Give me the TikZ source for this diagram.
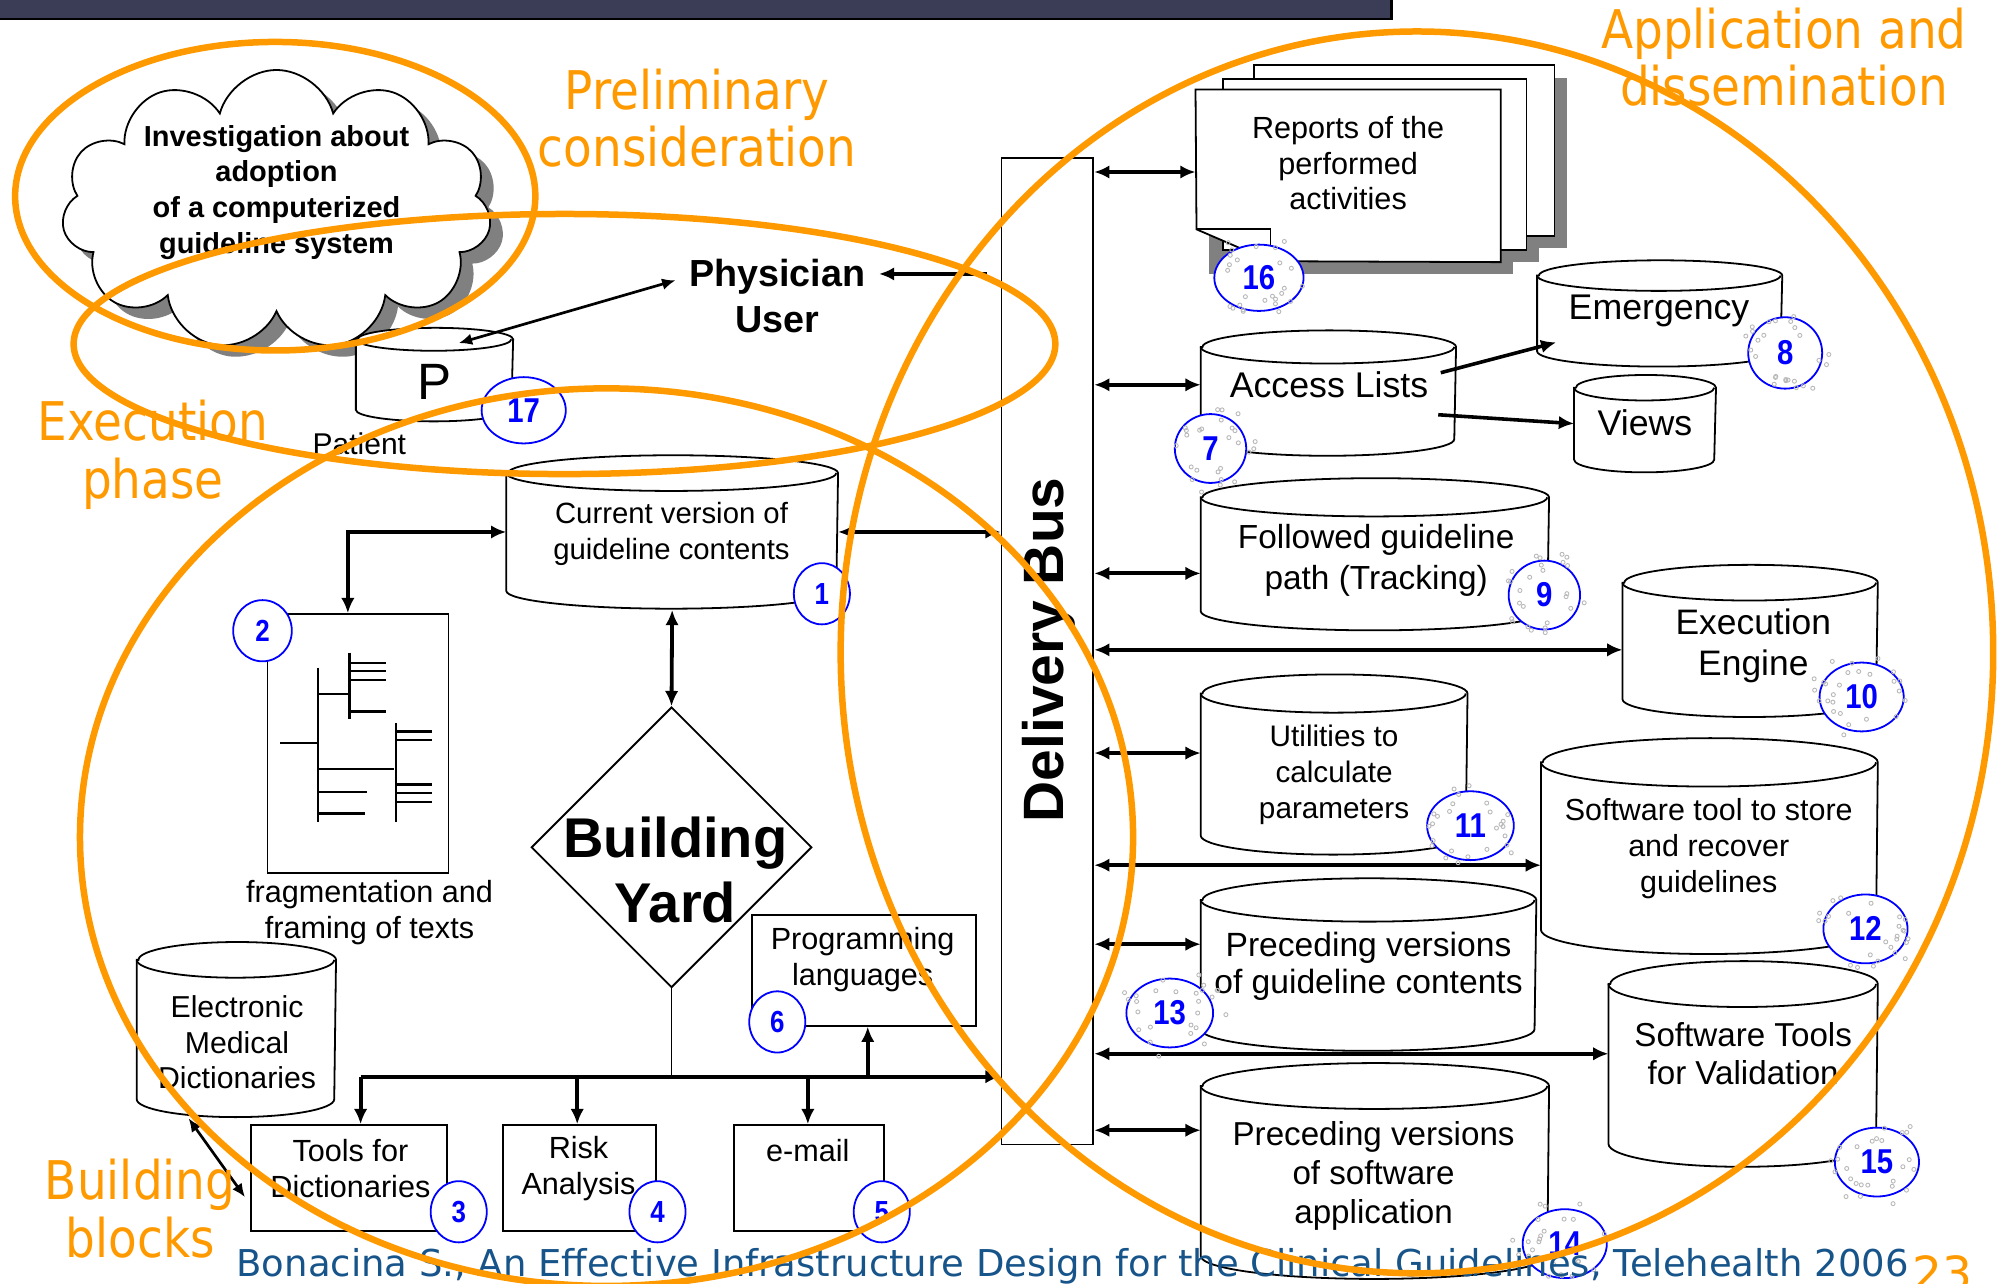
\documentclass[tikz,border=0pt]{standalone}
\usepackage{fontspec}
\setmainfont{Liberation Sans}
\newfontfamily\dvsans{DejaVu Sans}
\usepackage{graphicx}
\usetikzlibrary{shapes.geometric,shapes.symbols,arrows.meta,calc}

\definecolor{orangeline}{RGB}{255,153,0}
\definecolor{barnavy}{RGB}{59,61,87}
\definecolor{footblue}{RGB}{22,84,138}
\definecolor{badgeblue}{RGB}{0,0,255}
\definecolor{shadowgray}{RGB}{128,128,128}
\definecolor{speckgray}{RGB}{185,185,185}

\newcommand\fsz[2]{\fontsize{#1}{#2}\selectfont}

% cylinder: name, left x, right x, top-ellipse centre y, bottom-ellipse centre y, half height of ellipse
\newcommand\cylinder[6]{%
  \pgfmathsetmacro\cylcx{(#2+#3)/2}%
  \pgfmathsetmacro\cylcy{(#4+#5)/2}%
  \pgfmathsetmacro\cylrx{(#3-#2)/2}%
  \node[cylbox, minimum width={(#3-#2)*0.01cm}, minimum height={(#5-#4)*0.01cm}] (#1) at (\cylcx,\cylcy) {};
  \filldraw[cylline] (#1.north west) -- (#1.south west)
     arc[start angle=180, end angle=360, x radius=\cylrx*0.01cm, y radius=#6*0.01cm]
     -- (#1.north east)
     arc[start angle=0, end angle=180, x radius=\cylrx*0.01cm, y radius=#6*0.01cm] -- cycle;
  \draw[cylline, fill=none] (#1.north west)
     arc[start angle=180, end angle=360, x radius=\cylrx*0.01cm, y radius=#6*0.01cm];
}

% numbered marker: name, centre, number, x radius, y radius, font size
\newcommand\marker[6]{%
  \node[marknode, minimum width={#4*0.02cm}, minimum height={#5*0.02cm},
        font=\bfseries\fsz{#6}{#6}] (#1) at (#2) {\scalebox{0.85}[1]{#3}};}

% grey speckles round a marker: name, x radius, y radius
\newcommand\speckle[3]{%
  \foreach \k in {1,...,26}{%
    \pgfmathsetmacro\spa{rnd*360}%
    \pgfmathsetmacro\spr{0.6+rnd*0.7}%
    \draw[speckgray, line width=0.2pt] ($(#1)+({\spr*#2*cos(\spa)},{\spr*#3*sin(\spa)})$) circle[radius=0.45pt];
  }}

\begin{document}
\begin{tikzpicture}[x=0.01cm, y=-0.01cm,
  cylbox/.style={rectangle, inner sep=0, draw=none},
  cylline/.style={draw=black, fill=white, line width=0.4pt},
  boxnode/.style={rectangle, draw=black, fill=white, line width=0.4pt, inner sep=0},
  txt/.style={align=center, inner sep=0, text=black},
  marknode/.style={ellipse, draw=badgeblue, fill=white, line width=0.4pt, inner sep=0, text=badgeblue},
  tipa/.tip={Latex[length=3.4pt,width=3pt]},
  dbl/.style={tipa-tipa, line width=0.85pt},
  sgl/.style={-tipa, line width=0.85pt},
  thindbl/.style={{Latex[length=3pt,width=2.6pt]}-{Latex[length=3pt,width=2.6pt]}, line width=0.6pt},
  ring/.style={draw=orangeline, line width=1.45pt},
  olabel/.style={text=orangeline, inner sep=0, anchor=base, font=\dvsans\fsz{11.9}{13}},
  treeline/.style={line width=0.55pt}
]
\useasboundingbox (0,0) rectangle (1568,1007);
\clip (0,0) rectangle (1568,1007);

% title bar
\filldraw[fill=barnavy, draw=black, line width=0.6pt] (-5,-5) rectangle (1092,15);

% ---------- preliminary consideration ----------
\node[cloud, cloud puffs=11, cloud ignores aspect, minimum width=3.37cm, minimum height=2.2cm,
      fill=shadowgray, inner sep=0] (cloudsh) at (227,174) {};
\node[cloud, cloud puffs=11, cloud ignores aspect, minimum width=3.37cm, minimum height=2.2cm,
      draw=black, fill=white, line width=0.4pt, inner sep=0] (cloud) at (217,165) {};
\node[txt, font=\bfseries\fsz{6.46}{7.97}] (cloudt) at (217,151)
  {Investigation about\\adoption\\of a computerized\\guideline system};

% ---------- physician / patient ----------
\node[txt, font=\bfseries\fsz{8.42}{9.67}] (phy) at (610,217) {Physician};
\node[txt, font=\bfseries\fsz{8.42}{9.67}] (usr) at (610,251) {User};

\cylinder{pat}{280}{402}{267}{321}{9}
\node[txt, font=\fsz{11.4}{12}] (patp) at (341,300) {P};
\node[txt, font=\fsz{6.7}{8}] (patl) at (282,348) {Patient};

\draw[thindbl] ($(phy.west)+(-10,3)$) -- ($(pat.north)+(19,3)$);

% ---------- delivery bus ----------
\node[boxnode, minimum width=0.72cm, minimum height=7.74cm] (bus) at (822,511) {};
\node[txt, rotate=90, font=\bfseries\fsz{12.7}{14}] (bust) at (823,510) {Delivery Bus};

\draw[sgl, line width=0.7pt] ($(bus.west |- phy.east)+(-11,-2)$) -- ($(phy.east)+(10,-2)$);

% ---------- reports stack ----------
\fill[shadowgray] (994,61) rectangle (1230,195);
\fill[shadowgray] (970,72) rectangle (1208,206);
\fill[shadowgray] (949,81) rectangle (1187,215);
\filldraw[fill=white, draw=black, line width=0.4pt] (984,51) rectangle (1220,185);
\filldraw[fill=white, draw=black, line width=0.4pt] (960,62) rectangle (1198,196);
\node[rectangle, inner sep=0, minimum width=2.38cm, minimum height=1.34cm] (rep) at (1058,138) {};
\filldraw[fill=white, draw=black, line width=0.4pt]
  (rep.north west) -- (rep.north east) -- (rep.south east) -- (997,205) -- (939,180) -- cycle;
\draw[black, line width=0.4pt] (939,180) -- (997,180) -- (997,205);
\node[txt, font=\fsz{6.83}{7.97}] (rept) at (1058,128) {Reports of the\\performed\\activities};
\draw[dbl] (bus.east |- 0,135) -- (rep.west |- 0,135);

% ---------- application cylinders ----------
\cylinder{eme}{1207}{1398}{217}{275}{12}
\node[txt, font=\fsz{7.97}{9}] (emet) at (1302,244) {Emergency};
\cylinder{acc}{943}{1142}{273}{344}{13}
\node[txt, font=\fsz{7.97}{9}] (acct) at (1043,302) {Access Lists};
\cylinder{vie}{1236}{1346}{305}{360}{10}
\node[txt, font=\fsz{7.97}{9}] (viet) at (1291,332) {Views};
\draw[sgl, line width=0.8pt] ($(acc.east)+(-12,-16)$) -- ($(eme.south west)+(15,-7)$);
\draw[sgl, line width=0.8pt] ($(acc.east)+(-14,17)$) -- (vie.west);
\draw[dbl] (bus.east |- 0,302) -- (acc.west |- 0,302);

\cylinder{fol}{943}{1215}{391}{479}{15}
\node[txt, font=\fsz{7.45}{9.1}] (folt) at (1080,440) {Followed guideline\\path (Tracking)};
\draw[dbl] (bus.east |- 0,450) -- (fol.west |- 0,450);

\cylinder{exe}{1274}{1473}{458}{548}{14}
\node[txt, font=\fsz{7.9}{9.1}] (exet) at (1376,507) {Execution\\Engine};
\draw[dbl] (bus.east |- 0,510) -- (exe.west |- 0,510);

\cylinder{uti}{943}{1151}{545}{655}{15}
\node[txt, font=\fsz{6.63}{7.97}] (utit) at (1047,608) {Utilities to\\calculate\\parameters};
\draw[dbl] (bus.east |- 0,591) -- (uti.west |- 0,591);

\cylinder{sto}{1210}{1473}{599}{729}{19}
\node[txt, font=\fsz{6.8}{8.1}] (stot) at (1341,666) {Software tool to store\\and recover\\guidelines};
\draw[dbl] (bus.east |- 0,679) -- (sto.west |- 0,679);

\cylinder{pgc}{943}{1205}{707}{807}{17}
\node[txt, font=\fsz{7.5}{8.25}] (pgct) at (1074,758) {Preceding versions\\of guideline contents};
\draw[dbl] (bus.east |- 0,741) -- (pgc.west |- 0,741);

\cylinder{val}{1263}{1473}{773}{897}{18}
\node[txt, font=\fsz{7.4}{8.53}] (valt) at (1368,827) {Software Tools\\for Validation};
\draw[dbl] (bus.east |- 0,827) -- (val.west |- 0,827);

\cylinder{psw}{943}{1215}{853}{985}{18}
\node[txt, font=\fsz{7.4}{8.68}] (pswt) at (1078,923) {Preceding versions\\of software\\application};
\draw[dbl] (bus.east |- 0,887) -- (psw.west |- 0,887);

% ---------- building yard ----------
\cylinder{cur}{398}{657}{372}{463}{14}
\node[txt, font=\fsz{6.54}{7.97}] (curt) at (527,419) {Current version of\\guideline contents};
\draw[dbl] (cur.east) -- (bus.west |- cur.east);

\node[boxnode, minimum width=1.42cm, minimum height=2.03cm] (frag) at (281,583.5) {};
\draw[treeline] (249.5,524) -- (249.5,645.4);
\draw[treeline] (220,583.3) -- (249.5,583.3);
\draw[treeline] (249.5,544.7) -- (274.2,544.7);
\draw[treeline] (274.2,512.2) -- (274.2,564.2);
\foreach \yy in {520.2,526.7,533.6,558.5} \draw[treeline] (274.2,\yy) -- (302.7,\yy);
\draw[treeline] (249.5,603.4) -- (309.1,603.4);
\draw[treeline] (310.7,567.7) -- (310.7,645.4);
\foreach \yy in {574.2,580.7,615.8,622.5,629.4} \draw[treeline] (310.7,\yy) -- (339.2,\yy);
\draw[treeline] (249.5,621.7) -- (287.8,621.7);
\draw[treeline] (249.5,638.5) -- (286.5,638.5);
\node[txt, font=\fsz{6.83}{7.97}] (fragt) at (290,716) {fragmentation and\\framing of texts};
\draw[dbl] (cur.west) -| ($(frag.north)+(-8,0)$);

\node[diamond, draw=black, fill=white, line width=0.4pt, inner sep=0,
      minimum width=2.2cm, minimum height=2.2cm] (yard) at (527,665) {};
\node[txt, font=\bfseries\fsz{12.5}{14.5}] (yardt) at (530,683) {Building\\Yard};
\draw[dbl] ($(cur.south)+(0,15)$) -- (yard.north);

\node[boxnode, minimum width=1.76cm, minimum height=0.87cm] (prog) at (678,761.5) {};
\node[txt, font=\fsz{6.83}{7.97}] (progt) at (677,753) {Programming\\languages};
\node[boxnode, minimum width=1.54cm, minimum height=0.83cm] (tools) at (274,924.5) {};
\node[txt, font=\fsz{6.83}{7.97}] (toolst) at (275,917) {Tools for\\Dictionaries};
\node[boxnode, minimum width=1.20cm, minimum height=0.83cm] (risk) at (455,924.5) {};
\node[txt, font=\fsz{6.83}{7.97}] (riskt) at (454,917) {Risk\\Analysis};
\node[boxnode, minimum width=1.18cm, minimum height=0.83cm] (email) at (635,924.5) {};
\node[txt, font=\fsz{6.83}{7.97}] (emailt) at (634,903) {e-mail};

\cylinder{emd}{108}{263}{754}{862}{14}
\node[txt, font=\fsz{6.75}{7.97}] (emdt) at (186,818) {Electronic\\Medical\\Dictionaries};
\draw[thindbl] ($(emd.south)+(-37.5,15)$) -- ($(tools.west)+(-4,15)$);

\draw[line width=0.4pt] (yard.south) -- (yard.south |- 0,845) coordinate (jc);
\coordinate (jl) at (283,845);
\coordinate (jr) at (453,845);
\coordinate (je) at (634,845);
\coordinate (jp) at (681,845);
\draw[sgl] (jl) -- (bus.west |- jl);
\draw[sgl] (jl) -- (jl |- tools.north);
\draw[sgl] (jr) -- (jr |- risk.north);
\draw[sgl] (je) -- (je |- email.north);
\draw[sgl] (jp) -- (jp |- prog.south);

% ---------- numbered markers ----------
\pgfmathsetseed{11}
\marker{m16}{988,218}{16}{35}{26}{7.7}
\marker{m17}{411,322}{17}{33}{26}{7.7}
\marker{m8}{1401,277}{8}{29}{28}{7.7}
\marker{m7}{950,352}{7}{28}{27}{7.7}
\marker{m9}{1212,467}{9}{28}{27}{7.7}
\marker{m10}{1461,547}{10}{33}{27}{7.7}
\marker{m11}{1154,648}{11}{34}{27}{7.7}
\marker{m12}{1464,729}{12}{33}{27}{7.7}
\marker{m13}{918,795}{13}{34}{27}{7.7}
\marker{m15}{1473,912}{15}{33}{27}{7.7}
\marker{m14}{1228,976}{14}{33}{27}{7.7}
\marker{m1}{645,466}{1}{22}{24}{6.8}
\marker{m2}{206,495}{2}{23}{24}{6.8}
\marker{m3}{360,951}{3}{22}{24}{6.8}
\marker{m4}{516,951}{4}{22}{24}{6.8}
\marker{m5}{692,951}{5}{22}{24}{6.8}
\marker{m6}{610,802}{6}{22}{24}{6.8}
\speckle{m16}{35}{26}
\speckle{m8}{29}{28}
\speckle{m7}{28}{27}
\speckle{m9}{28}{27}
\speckle{m10}{33}{27}
\speckle{m11}{34}{27}
\speckle{m12}{33}{27}
\speckle{m13}{34}{27}
\speckle{m15}{33}{27}
\speckle{m14}{33}{27}

% ---------- footer ----------
\node[anchor=base west, inner sep=0, text=footblue, font=\dvsans\fsz{8.25}{9.5}] (foot) at (185,1002)
  {Bonacina S., An Effective Infrastructure Design for the Clinical Guidelines, Telehealth 2006};
\node[anchor=base west, inner sep=0, text=orangeline, font=\dvsans\fsz{10.5}{12}] (pgno) at (1500,1013) {23};

% ---------- phase outlines ----------
\draw[ring] (216,154) ellipse[x radius=2.04cm, y radius=1.21cm];
\draw[ring] (443,270) ellipse[x radius=3.85cm, y radius=1.02cm];
\draw[ring] (476,657) ellipse[x radius=4.13cm, y radius=3.52cm];
\draw[ring] (1112,512) ellipse[x radius=4.52cm, y radius=4.87cm];

\node[olabel] (pre1) at (547,86) {\scalebox{0.88}[1]{Preliminary}};
\node[olabel] (pre2) at (547,131) {\scalebox{0.88}[1]{consideration}};
\node[olabel] (app1) at (1400,38) {\scalebox{0.88}[1]{Application and}};
\node[olabel] (app2) at (1400,83) {\scalebox{0.88}[1]{dissemination}};
\node[olabel] (exe1) at (120,346) {\scalebox{0.88}[1]{Execution}};
\node[olabel] (exe2) at (120,391) {\scalebox{0.88}[1]{phase}};
\node[olabel] (bld1) at (110,941) {\scalebox{0.88}[1]{Building}};
\node[olabel] (bld2) at (110,987) {\scalebox{0.88}[1]{blocks}};
\end{tikzpicture}
\end{document}
